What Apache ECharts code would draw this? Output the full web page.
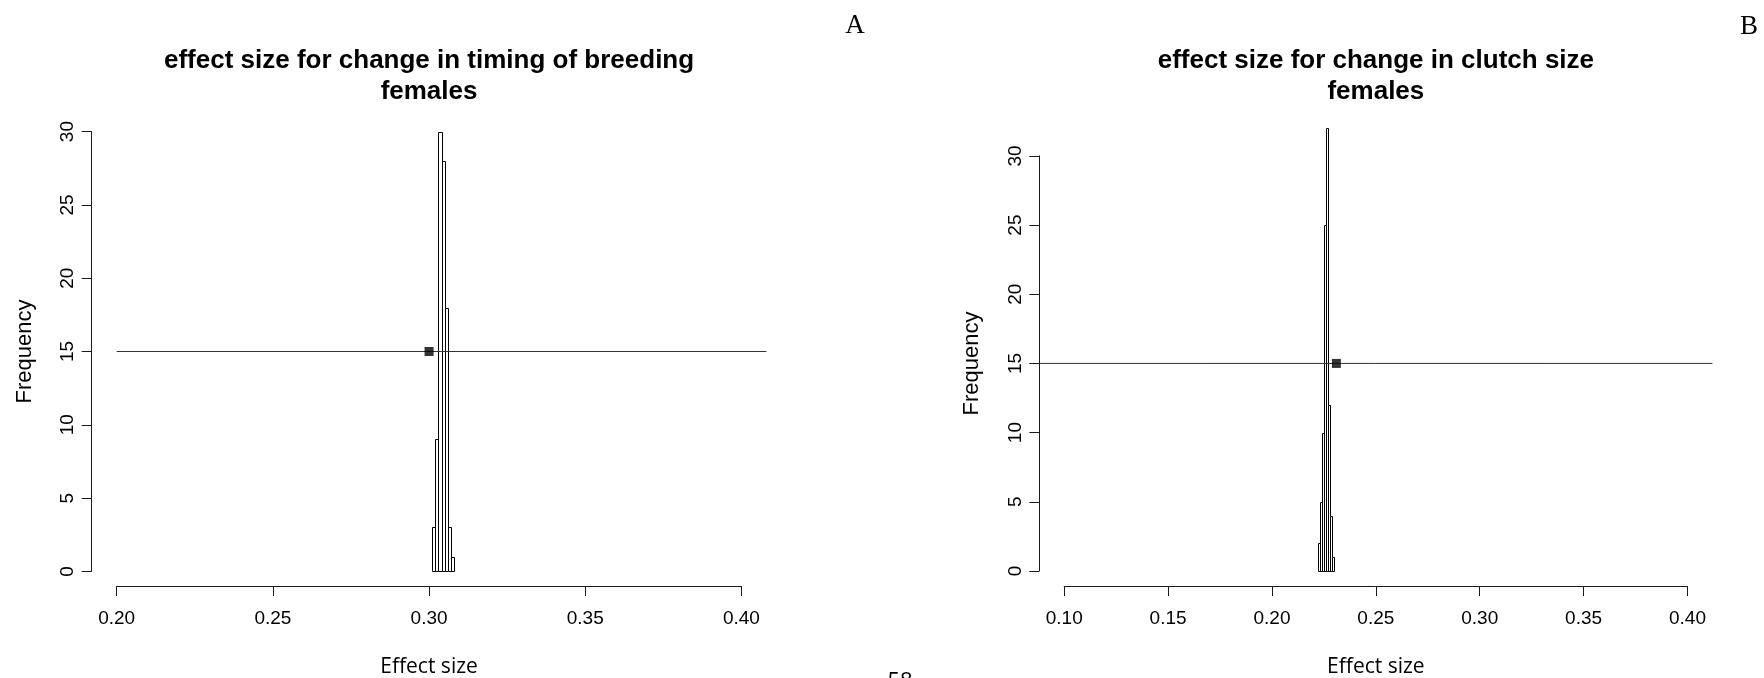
<!DOCTYPE html>
<html>
<head>
<meta charset="utf-8">
<script src="https://cdn.jsdelivr.net/npm/echarts@6/dist/echarts.min.js"></script>
<style>
  html, body { margin: 0; padding: 0; background: #fff; }
  #chart { width: 1764px; height: 678px; }
</style>
</head>
<body>
<div id="chart"></div>
<script>
// Bootstrap distributions of the female effect sizes (bin width 0.001)
const timingBinEdges = [0.301, 0.302, 0.303, 0.304, 0.305, 0.306, 0.307, 0.308];
const timingCounts   = [3, 9, 30, 28, 18, 3, 1];
const timingObserved = [0.300, 15];

const clutchBinEdges = [0.222, 0.223, 0.224, 0.225, 0.226, 0.227, 0.228, 0.229, 0.230];
const clutchCounts   = [2, 5, 10, 25, 32, 12, 4, 1];
const clutchObserved = [0.231, 15];

// Horizontal reference at frequency 15
const refFrequency = 15;

// Tick labels
const timingXTicks = [0.20, 0.25, 0.30, 0.35, 0.40];
const clutchXTicks = [0.10, 0.15, 0.20, 0.25, 0.30, 0.35, 0.40];
const freqTicks    = [0, 5, 10, 15, 20, 25, 30];

// Panel geometry: plot region in pixels and its user coordinate extent
const panels = [
  {
    title: ['effect size for change in timing of breeding', 'females'],
    edges: timingBinEdges, counts: timingCounts, observed: timingObserved,
    xTicks: timingXTicks, lineFrom: 0.20,
    px: [91.7, 766.4], py: [114, 589],
    ux: [0.192, 0.408], uy: [-1.2, 31.2]
  },
  {
    title: ['effect size for change in clutch size', 'females'],
    edges: clutchBinEdges, counts: clutchCounts, observed: clutchObserved,
    xTicks: clutchXTicks, lineFrom: 0.088,
    px: [1039.3, 1712.4], py: [110.5, 588.7],
    ux: [0.088, 0.412], uy: [-1.28, 33.28]
  }
];

const AXIS_Y = 586;
const INK = '#1a1a1a';

const grids = [], xAxes = [], yAxes = [], series = [], graphics = [];

panels.forEach((p, i) => {
  const toX = v => p.px[0] + (v - p.ux[0]) / (p.ux[1] - p.ux[0]) * (p.px[1] - p.px[0]);
  const toY = v => p.py[1] - (v - p.uy[0]) / (p.uy[1] - p.uy[0]) * (p.py[1] - p.py[0]);

  // data grid covering the whole plot region
  grids.push({
    left: p.px[0], top: p.py[0], width: p.px[1] - p.px[0], height: p.py[1] - p.py[0],
    containLabel: false, outerBoundsMode: 'none'
  });
  xAxes.push({ type: 'value', gridIndex: 2 * i, min: p.ux[0], max: p.ux[1], show: false });
  yAxes.push({ type: 'value', gridIndex: 2 * i, min: p.uy[0], max: p.uy[1], show: false });

  // axis grid spanning only the tick range
  const xt = p.xTicks, yt = freqTicks;
  const gx0 = toX(xt[0]), gx1 = toX(xt[xt.length - 1]);
  const gy0 = toY(yt[yt.length - 1]), gy1 = toY(yt[0]);
  grids.push({
    left: gx0, top: gy0, width: gx1 - gx0, height: gy1 - gy0,
    containLabel: false, outerBoundsMode: 'none'
  });
  xAxes.push({
    type: 'value', gridIndex: 2 * i + 1,
    min: xt[0], max: xt[xt.length - 1],
    interval: Math.round((xt[1] - xt[0]) * 1000) / 1000,
    offset: AXIS_Y - gy1,
    axisLine: { show: true, onZero: false, lineStyle: { color: INK, width: 1 } },
    axisTick: { show: true, length: 10, lineStyle: { color: INK, width: 1 } },
    axisLabel: {
      color: '#000', fontFamily: 'Liberation Sans, Arial, sans-serif', fontSize: 19, margin: 23,
      formatter: v => v.toFixed(2)
    },
    splitLine: { show: false },
    name: 'Effect size', nameLocation: 'middle', nameGap: 71,
    nameTextStyle: { color: '#000', fontFamily: 'Open Sans, Lato, sans-serif', fontSize: 21 }
  });
  yAxes.push({
    type: 'value', gridIndex: 2 * i + 1,
    min: yt[0], max: yt[yt.length - 1], interval: yt[1] - yt[0],
    offset: gx0 - p.px[0],
    axisLine: { show: true, onZero: false, lineStyle: { color: INK, width: 1 } },
    axisTick: { show: true, length: 10, lineStyle: { color: INK, width: 1 } },
    axisLabel: {
      color: '#000', fontFamily: 'Liberation Sans, Arial, sans-serif', fontSize: 19,
      rotate: 90, margin: 14
    },
    splitLine: { show: false },
    name: 'Frequency', nameLocation: 'middle', nameGap: 56,
    nameTextStyle: { color: '#000', fontFamily: 'Liberation Sans, Arial, sans-serif', fontSize: 22 }
  });

  // histogram bars
  series.push({
    type: 'custom', xAxisIndex: 2 * i, yAxisIndex: 2 * i, z: 2,
    data: p.counts.map((c, k) => [p.edges[k], p.edges[k + 1], c]),
    encode: { x: [0, 1], y: 2 },
    renderItem: (params, api) => {
      const a = api.coord([api.value(0), api.value(2)]);
      const b = api.coord([api.value(1), 0]);
      const x0 = Math.round(a[0]) + 0.5, x1 = Math.round(b[0]) + 0.5;
      const y0 = Math.round(a[1]) + 0.5, y1 = Math.round(b[1]) + 0.5;
      return {
        type: 'rect',
        shape: { x: x0, y: y0, width: x1 - x0, height: y1 - y0 },
        style: { fill: '#fff', stroke: '#000', lineWidth: 1 }
      };
    }
  });

  // reference line at frequency 15
  series.push({
    type: 'line', xAxisIndex: 2 * i, yAxisIndex: 2 * i, z: 3,
    data: [[p.lineFrom, refFrequency], [p.ux[1], refFrequency]],
    symbol: 'none', lineStyle: { color: '#333', width: 1 }, silent: true
  });

  // observed effect size
  series.push({
    type: 'scatter', xAxisIndex: 2 * i, yAxisIndex: 2 * i, z: 4,
    data: [p.observed], symbol: 'rect', symbolSize: 9,
    itemStyle: { color: '#000' }, silent: true
  });

  // two-line bold title
  const cx = (p.px[0] + p.px[1]) / 2;
  p.title.forEach((t, k) => graphics.push({
    type: 'text', x: cx, y: 60.5 + k * 31.5,
    style: {
      text: t, fill: '#000', font: 'bold 26px "Liberation Sans", Arial, sans-serif',
      textAlign: 'center', textVerticalAlign: 'middle'
    }
  }));
});

// panel letters and page number
graphics.push(
  { type: 'text', x: 855, y: 26, style: { text: 'A', fill: '#000', font: '27px "Liberation Serif", "Times New Roman", serif', textAlign: 'center', textVerticalAlign: 'middle' } },
  { type: 'text', x: 1749, y: 27, style: { text: 'B', fill: '#000', font: '27px "Liberation Serif", "Times New Roman", serif', textAlign: 'center', textVerticalAlign: 'middle' } },
  { type: 'text', x: 900, y: 671, style: { text: '58', fill: '#000', font: '22px "Open Sans", sans-serif', textAlign: 'center', textVerticalAlign: 'top' } }
);

const chart = echarts.init(document.getElementById('chart'), null, { renderer: 'canvas' });
chart.setOption({
  animation: false,
  backgroundColor: '#fff',
  grid: grids,
  xAxis: xAxes,
  yAxis: yAxes,
  series: series,
  graphic: graphics
});
</script>
</body>
</html>
